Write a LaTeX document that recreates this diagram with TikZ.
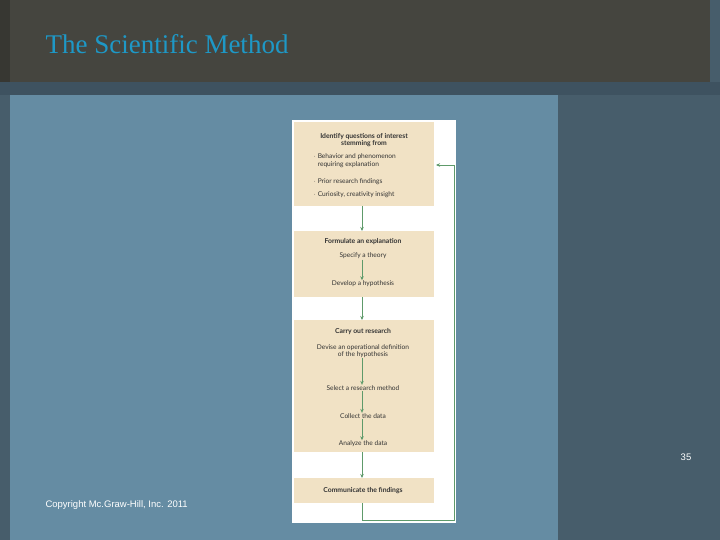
\documentclass[tikz,border=0pt]{standalone}
\usepackage{fontspec}
\usetikzlibrary{arrows.meta}
\setmainfont{Liberation Serif}
\newfontfamily\arialf{Liberation Sans}
\newfontfamily\gillf{Lato}
\begin{document}
\begin{tikzpicture}[x=1pt,y=-1pt,
  t/.style={font=\gillf\fontsize{6.6}{7.6}\selectfont,align=center,text=black!80,inner sep=0.5pt},
  tb/.style={t,font=\gillf\bfseries\fontsize{6.8}{7.8}\selectfont},
  ar/.style={draw=arrg,line width=0.9pt,-{Stealth[length=4pt,width=3.5pt]}}]
\definecolor{boxbg}{HTML}{F1E2C5}
\definecolor{arrg}{HTML}{5E9A6A}
\definecolor{topbg}{HTML}{45453F}
\definecolor{panel}{HTML}{658CA3}
\definecolor{rcol}{HTML}{475D6B}
\definecolor{band}{HTML}{3E5260}
\definecolor{titlec}{HTML}{1E98C6}
\useasboundingbox (0,0) rectangle (720,540);
\fill[rcol] (0,0) rectangle (720,540);
\fill[topbg] (0,0) rectangle (710,82);
\fill[topbg!80!black] (0,0) rectangle (10,82);
\fill[band] (0,82) rectangle (720,95);
\fill[panel] (10,95) rectangle (558,540);
\node[anchor=west,text=titlec,font=\fontsize{27}{30}\selectfont] (title) at (42,44) {The Scientific Method};
\node[anchor=west,text=white,font=\arialf\fontsize{9.5}{11}\selectfont] (copy) at (42,505) {Copyright Mc.Graw-Hill, Inc. 2011};
\node[text=white,font=\arialf\fontsize{9.5}{11}\selectfont] (num) at (686,457) {35};
\fill[white] (292,120) rectangle (456,523);
\fill[boxbg] (294,122) rectangle (434,206);
\fill[boxbg] (294,231) rectangle (434,297);
\fill[boxbg] (294,320) rectangle (434,452);
\fill[boxbg] (294,478) rectangle (434,503);
\node[tb] (h1) at (364,140) {Identify questions of interest\\stemming from};
\node[t,anchor=north west,align=left] (l1) at (313,153) {$\cdot$ Behavior and phenomenon\\\phantom{$\cdot$ }requiring explanation};
\node[t,anchor=west] (l2) at (313,182) {$\cdot$ Prior research findings};
\node[t,anchor=west] (l3) at (313,195) {$\cdot$ Curiosity, creativity insight};
\node[tb] (h2) at (363,242) {Formulate an explanation};
\node[t] (s1) at (363,256) {Specify a theory};
\node[t] (s2) at (363,284) {Develop a hypothesis};
\node[tb] (h3) at (363,332) {Carry out research};
\node[t] (r1) at (363,351) {Devise an operational definition\\of the hypothesis};
\node[t] (r2) at (363,388) {Select a research method};
\node[t] (r3) at (363,416) {Collect the data};
\node[t] (r4) at (363,444) {Analyze the data};
\node[tb] (h4) at (363,491) {Communicate the findings};
\coordinate (b1) at (362,206); \coordinate (t2) at (362,231);
\coordinate (b2) at (362,297); \coordinate (t3) at (362,320);
\coordinate (b3) at (362,452); \coordinate (t4) at (362,478);
\coordinate (b4) at (362,503); \coordinate (fb) at (436,165);
\draw[ar] (b1) -- (t2);
\draw[ar] (b2) -- (t3);
\draw[ar] (b3) -- (t4);
\draw[ar] (s1.south -| b1) -- (s2.north -| b1);
\draw[ar] (r1.south -| b1) -- (r2.north -| b1);
\draw[ar] (r2.south -| b1) -- (r3.north -| b1);
\draw[ar] (r3.south -| b1) -- (r4.north -| b1);
\draw[ar] (b4) -- (362,520) -- (454,520) -- (454,165) -- (fb);
\end{tikzpicture}
\end{document}
